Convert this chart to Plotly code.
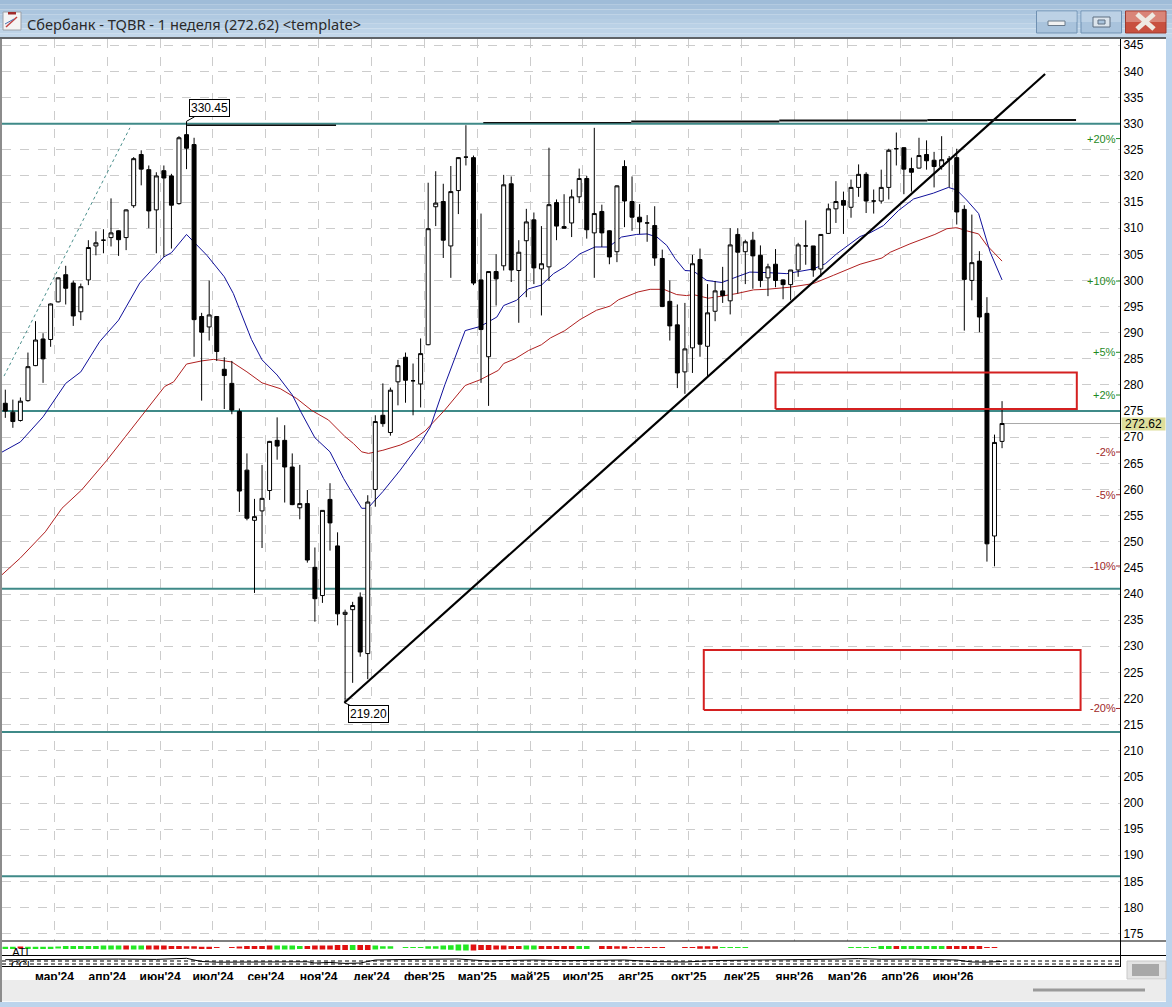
import plotly.graph_objects as go

TITLE = "Сбербанк - TQBR - 1 неделя (272.62) &lt;template&gt;"
LAST_PRICE = 272.62

# Weekly bars, oldest first
opens = [276.5,274.8,273.2,277.0,283.7,288.8,288.7,295.9,301.1,299.5,294.0,300.1,306.6,307.7,308.2,309.5,308.2,314.3,324.1,321.2,
         313.5,321.0,320.0,314.7,327.9,326.0,293.1,291.1,293.1,283.0,280.3,274.9,263.7,254.1,255.9,259.8,269.4,269.4,264.3,256.5,
         257.3,245.1,239.7,258.1,249.2,236.1,237.0,239.4,228.6,260.0,274.2,270.9,280.6,285.3,280.8,280.2,287.7,314.1,315.1,306.6,
         317.2,323.6,323.5,300.1,285.4,301.7,302.8,318.5,301.9,307.6,311.6,302.2,302.6,314.9,310.3,311.0,316.0,319.5,309.1,313.2,
         309.5,305.5,321.8,315.1,312.1,311.0,310.5,304.2,296.0,291.5,282.5,287.1,304.0,287.4,294.1,298.0,296.1,308.8,305.5,307.7,
         304.8,300.5,303.1,300.1,299.2,302.0,306.6,306.6,302.2,309.0,313.7,315.3,314.0,317.8,320.3,315.2,315.2,317.8,325.2,325.4,
         321.4,321.5,324.1,323.0,321.8,323.2,323.5,313.6,300.0,303.7,293.7,251.1,269.2]
highs = [279.1,277.2,277.6,286.2,292.2,289.9,295.6,300.6,302.8,300.0,299.4,307.7,309.4,309.8,315.7,309.6,313.6,323.6,324.9,322.0,
         320.7,322.0,320.4,327.6,330.45,327.3,293.8,300.0,293.2,285.3,284.6,275.5,266.9,258.2,264.7,269.3,273.8,272.3,266.9,264.7,
         259.9,248.9,256.0,261.2,251.8,237.0,238.5,240.3,258.9,274.2,280.3,279.5,284.8,286.2,284.1,288.9,318.7,320.9,318.5,321.9,
         323.6,329.7,323.9,312.8,301.7,305.0,320.2,319.9,307.7,313.7,313.0,310.4,325.4,315.5,316.5,317.4,321.4,320.0,329.2,314.5,
         309.6,318.2,323.0,319.9,314.6,312.5,314.2,305.9,300.0,295.4,295.7,304.9,306.1,299.3,299.9,302.6,310.0,310.0,307.8,309.3,
         306.7,303.2,306.0,300.2,302.0,307.2,311.5,306.6,308.8,314.7,319.0,317.0,319.3,322.2,320.7,317.4,321.2,325.2,328.3,325.5,
         323.5,327.3,326.8,324.6,327.6,323.8,325.2,314.4,312.6,305.6,296.8,270.5,276.9]
lows = [273.7,271.8,273.0,276.8,283.6,280.4,287.3,295.8,295.4,291.3,292.4,299.1,304.8,305.2,306.5,304.7,305.8,313.9,318.2,310.0,
        305.2,304.5,306.1,314.5,321.3,285.4,277.0,288.5,284.6,275.4,274.4,255.7,254.1,240.2,248.8,258.0,265.7,257.5,257.0,254.3,
        246.0,234.7,238.3,248.3,234.0,219.2,223.0,228.0,223.7,256.7,272.0,270.3,276.1,276.6,274.2,275.7,287.6,310.4,304.3,300.5,
        312.7,322.0,299.1,280.4,276.0,295.2,301.9,299.7,291.9,296.8,299.3,293.3,299.9,307.7,309.9,308.3,314.8,308.0,300.5,306.4,
        303.1,303.5,310.2,309.5,308.9,307.4,302.8,294.9,288.5,279.4,278.3,282.3,285.4,281.5,292.2,295.7,293.5,297.5,299.3,298.4,
        298.7,297.0,298.7,296.4,296.2,300.7,303.0,300.7,300.7,308.9,311.0,308.9,312.0,316.0,312.9,312.8,314.7,315.5,322.0,316.5,
        317.0,321.4,321.2,317.8,321.2,317.8,310.7,290.4,296.2,290.1,246.2,245.3,267.9]
closes = [275.0,273.0,276.9,283.5,288.6,285.0,295.5,300.5,298.5,293.2,298.8,306.3,307.2,307.7,309.1,307.8,313.5,323.3,321.3,313.3,
          320.0,319.6,314.4,327.3,325.3,292.5,290.1,293.4,286.4,281.8,275.2,259.7,254.5,254.8,258.3,269.2,268.3,264.3,257.1,257.3,
          246.5,239.1,256.0,253.6,236.2,236.5,237.8,228.9,257.6,273.0,272.6,279.0,283.7,280.9,280.8,286.0,309.9,314.8,307.7,317.0,
          323.5,323.6,299.5,290.6,301.7,300.3,318.3,302.0,305.4,311.2,302.4,303.2,314.5,310.4,310.0,316.0,319.5,309.7,312.8,309.1,
          304.5,318.1,315.2,312.1,311.2,311.0,304.3,295.0,291.3,282.3,286.9,303.2,287.8,293.8,298.0,297.1,306.8,305.4,307.4,304.7,
          300.0,302.6,300.0,299.2,302.0,306.8,306.6,302.0,308.8,313.7,315.1,314.4,317.8,320.3,315.2,315.2,317.8,324.9,325.2,321.3,
          320.7,323.9,322.9,321.8,323.1,323.2,313.1,300.2,303.4,293.0,249.6,269.0,272.62]

# Short moving average
ma_fast_idx = [-0.5,2,5,8,10,12.5,15,17.8,21,22,24,26.7,29,30.2,32.6,34,36,38,39.2,41,43,44.8,46,47.2,48,50,52.3,55.2,56.3,58.2,
               60.9,62.9,65.1,66,67.7,69.3,71,72.6,74.1,76.1,78.1,79.9,81.6,83.6,85,86.3,87.6,88.7,90,91.1,92.9,94.9,96.9,98.6,100.9,
               103.5,107,108.6,110.1,113.2,114.5,116.3,118.3,120.3,122.9,124.9,126,127.3,128.9,129.8,130.4,132]
ma_fast = [267.1,269.1,273.9,280.3,282.5,288.3,292.4,299.5,304.5,305.3,308.8,304.8,300.7,297.5,288.7,284.8,281.9,278.1,274.7,269.9,
           267.2,262.1,259.2,256.4,256.4,259.6,263.7,269.4,272.0,280.0,290.4,291.2,293.0,295.2,296.2,298.4,299.1,301.3,302.6,305.1,
           306.4,306.4,308.3,308.8,308.9,308.3,306.7,304.2,301.9,301.8,300.0,299.6,300.7,301.6,301.5,301.3,302.2,303.2,305.1,308.4,
           309.1,310.5,313.4,315.6,316.7,317.8,317.3,315.4,312.8,308.6,305.5,300.1]

# Long moving average
ma_slow_idx = [-0.5,2,5.3,7.5,10.1,13.4,15.9,18.5,21.1,22.3,24,26,27.6,30,32,34,36.4,38.6,40.6,42.8,45,46.1,47.2,48.1,50,52.3,54,
               55.6,57,58.2,60.9,62.9,65.3,66,67.5,69.3,71,72.2,74.1,76.1,78.3,80.1,81.2,83.8,85.4,87.2,88.9,90.2,91.1,93.1,94.9,96.9,
               99.1,100.8,103.9,107,109.7,113.2,116.1,117.2,119.8,123.1,124.7,126,127.3,128.9,130,132]
ma_slow = [243.6,246.9,251.9,256.4,259.9,265.5,270.1,274.9,279.7,280.6,284.0,284.6,284.9,284.4,282.5,280.4,279.3,277.4,275.1,273.3,
           270.1,268.8,267.2,266.9,267.5,268.5,269.6,271.2,273.3,275.2,279.9,281.0,282.8,284.1,285.0,286.6,287.7,289.0,290.4,292.5,
           294.3,295.1,296.3,297.8,298.3,298.3,297.3,297.1,297.3,296.6,297.0,297.5,298.2,298.3,298.7,299.4,301.0,303.1,304.3,305.4,
           307.0,308.8,309.9,310.1,309.5,308.9,306.7,303.7]

# Horizontal support and resistance levels
level_prices = [330, 275, 241, 213.6, 186]

# Rising support line and the earlier steep dotted channel edge
trend_idx = [44.9, 137.7]
trend_price = [219.2, 339.5]
channel_idx = [-0.17, 16.5]
channel_price = [281.7, 329.2]

# Nearly flat resistance drawn from the 2024 high, one entry per piece
resistance_idx = [(24.07, 43.8), (63.3, 82.9), (82.9, 102.5), (102.5, 122.1), (122.1, 141.8)]
resistance_price = [329.7, 330.2, 330.4, 330.6, 330.7]

# Target zones: first and last bar position, lower and upper price
zone_idx = [(102, 141.9), (92.5, 142.4)]
zone_price = [(275.4, 282.4), (217.8, 229.3)]

# Distance from the last price, printed beside the price scale
pct_levels = [20, 10, 5, 2, -2, -5, -10, -20]

# Signed oscillator histogram
ati_values = [1.5,1.5,-2,1.5,1.5,1.5,1.5,2,3,3,3,3,3,4,4,4,-4,4,4,-4,-4,-4,-3,-3,-2.5,-2.5,-1.5,-1.5,-1,0,-1,-2,-3,-3,-3,-4,
              4,4,4,3,-3,-4,-4,-4,-5,-5,5,-5,-5,4,2.5,2.5,0,1,1,1,2.5,2.5,4,4.5,6,6,-6,-5,-5,-4,-4,-3,-3,4,4,-3,-3,-3,-3,-3,
              3,3,0,-3,-3,-2.5,-2.5,-1,-1,-1,-1,-1,0,0,-1,-1,-2.5,-2.5,-2.5,1,1,1,1,0,0,0,0,0,0,0,0,0,0,0,0,0,
              1,1,1,1,3,3,-3,3,3,3,3,3,3,-3,-3,-3,-3,-3,-1,-1,0,-1,-3,-3]

# Second oscillator line and its two dashed bands
cci_idx = [0,5,10,15,20,23,24,25,26,28,32,38,40,41,43,45,47,48,49,52,56,60,62,64,67,70,74,78,82,86,90,94,100,106,110,113,116,120,
           124,126,128,130,132]
cci_vals = [6.3,6.7,6.4,6.9,6.6,7.7,7.7,6,4.5,3.8,4,4.4,4.2,3,3.6,2.6,3,4.5,6,6.4,6.7,7,6,5,5.6,6,5.3,5.5,6,4.4,4,5.5,6,6,6.8,
            7.4,6.7,6.9,6.5,6,4,3.8,4.6]
cci_bands = [5, 2]

# Month labels along the time scale
month_labels = ["мар'24","апр'24","июн'24","июл'24","сен'24","ноя'24","дек'24","фев'25","мар'25","май'25","июл'25","авг'25",
                "окт'25","дек'25","янв'26","мар'26","апр'26","июн'26"]
month_pos = [6.5 + 7 * k for k in range(len(month_labels))]

W, H = 1172, 1007
X_RANGE = [-0.437, 147.62]
Y_RANGE = [173.6, 346.2]
SANS = "Liberation Sans, Arial, sans-serif"
BAR_X = list(range(len(opens)))


def vdom(top, bottom):
    return [1 - bottom / H, 1 - top / H]


fig = go.Figure()

# Base layer of the price pane: levels and moving averages sit behind the candles
for lvl in level_prices:
    fig.add_trace(go.Scatter(x=X_RANGE, y=[lvl, lvl], mode="lines", line=dict(color="#3f8a88", width=2), hoverinfo="skip"))
fig.add_trace(go.Scatter(x=channel_idx, y=channel_price, mode="lines", line=dict(color="#4a8f8c", width=1, dash="3px,3px")))
fig.add_trace(go.Scatter(x=ma_slow_idx, y=ma_slow, mode="lines", line=dict(color="#b02020", width=1)))
fig.add_trace(go.Scatter(x=ma_fast_idx, y=ma_fast, mode="lines", line=dict(color="#10109a", width=1)))
fig.add_trace(go.Scatter(x=[BAR_X[-1], X_RANGE[1]], y=[LAST_PRICE, LAST_PRICE], mode="lines", line=dict(color="#a8a8a8", width=1)))

# Overlay layer: candles and the hand-drawn studies on top of them
fig.add_trace(go.Candlestick(
    x=BAR_X, open=opens, high=highs, low=lows, close=closes, xaxis="x4", yaxis="y4",
    increasing=dict(line=dict(color="black", width=1), fillcolor="white"),
    decreasing=dict(line=dict(color="black", width=1), fillcolor="black"),
    whiskerwidth=0,
))
fig.add_trace(go.Scatter(x=trend_idx, y=trend_price, mode="lines", xaxis="x4", yaxis="y4", line=dict(color="black", width=2.2)))
for (x0, x1), p in zip(resistance_idx, resistance_price):
    fig.add_trace(go.Scatter(x=[x0, x1], y=[p, p], mode="lines", xaxis="x4", yaxis="y4",
                             line=dict(color="#101010", width=2 if x0 > 80 else 1.4)))
for (x0, x1), (p0, p1) in zip(zone_idx, zone_price):
    fig.add_trace(go.Scatter(x=[x0, x1, x1, x0, x0], y=[p0, p0, p1, p1, p0], mode="lines", xaxis="x4", yaxis="y4",
                             line=dict(color="#d42020", width=2)))

# Oscillator histogram, centred on the pane's zero line
fig.add_trace(go.Bar(
    x=BAR_X, y=[abs(v) for v in ati_values], base=[-abs(v) / 2 for v in ati_values],
    marker=dict(color=["#22e822" if v > 0 else "#e01010" for v in ati_values], line=dict(width=0)),
    width=0.74, xaxis="x2", yaxis="y2",
))
fig.add_trace(go.Scatter(x=[2], y=[-5.5], mode="text", text=["ATI"], textfont=dict(family=SANS, size=11, color="black"),
                         xaxis="x2", yaxis="y2", cliponaxis=True))

# Lower oscillator pane
for band in cci_bands:
    fig.add_trace(go.Scatter(x=X_RANGE, y=[band, band], mode="lines", xaxis="x3", yaxis="y3",
                             line=dict(color="black", width=1, dash="4px,3px")))
fig.add_trace(go.Scatter(x=cci_idx, y=cci_vals, mode="lines", xaxis="x3", yaxis="y3", line=dict(color="black", width=1)))
fig.add_trace(go.Scatter(x=[2], y=[-0.5], mode="text", text=["CCI"], textfont=dict(family=SANS, size=11, color="black"),
                         xaxis="x3", yaxis="y3", cliponaxis=True))

shapes = []


def rect(x0, y0, x1, y1, fill, line=None, width=1):
    shapes.append(dict(type="rect", xref="paper", yref="paper", x0=x0 / W, x1=x1 / W, y0=1 - y0 / H, y1=1 - y1 / H,
                       fillcolor=fill, line=dict(color=line or fill, width=width if line else 0)))


def seg(x0, y0, x1, y1, color, width=1):
    shapes.append(dict(type="line", xref="paper", yref="paper", x0=x0 / W, x1=x1 / W, y0=1 - y0 / H, y1=1 - y1 / H,
                       line=dict(color=color, width=width)))


# Title bar gradient and window frame
for k, col in enumerate(["#9fbcd8", "#a6c1db", "#abc5de", "#b0c9e1", "#b5cde3", "#bad1e6", "#bed4e8", "#c2d7ea"]):
    rect(0, k * 4.75, W, (k + 1) * 4.75, col)
rect(1166, 38, W, H, "#bcd4ec")
rect(0, 980, 1166, 1002, "#ececec")
rect(0, 1002, W, H, "#bcd4ec")
seg(0, 1001.5, 1166, 1001.5, "#f8f8f8")
rect(0, 38, 2, 1002, "#8c8c8c")
rect(0, 37, 1166, 39, "#606468")

# Window buttons
rect(1036.5, 11, 1077, 33, "#a9c3dc", "#6f90b2")
rect(1081, 11, 1121.5, 33, "#a9c3dc", "#6f90b2")
rect(1125.5, 11, 1166, 33, "#c8503f", "#9a3a30")
rect(1126, 11.5, 1165.5, 22, "#d98578")
rect(1037, 11.5, 1076.5, 22, "#bcd1e5")
rect(1081.5, 11.5, 1121, 22, "#bcd1e5")
rect(1048, 21, 1065, 25.5, "#f2f2f2", "#6a7a8a")
rect(1093, 17, 1110, 27, "#dbe4ec", "#5f6f80", 1)
rect(1098, 20, 1105, 24, "#a9c3dc", "#5f6f80", 1)
seg(1137, 14, 1154, 29, "#eeeae2", 5)
seg(1154, 14, 1137, 29, "#eeeae2", 5)

# Window icon
rect(3, 12, 21, 30, "#f4f4f4", "#9aa0a8")
rect(8, 12, 16, 14.5, "#a02a2a")
seg(6, 27, 17, 17, "#c04040", 1.5)
seg(5, 24, 14, 19, "#4a70b0", 1)

# Pane separators and the corner scroll controls
seg(2, 941, 1166, 941, "black")
seg(2, 955.5, 1166, 955.5, "black")
rect(1127, 961, 1166, 979, "#e4e4e4", "#c8c8c8")
rect(1132, 964, 1159, 976, "#a8a8a8")
rect(1033, 988.5, 1145, 991.5, "#9a9a9a")

annotations = [
    dict(xref="paper", yref="paper", x=25 / W, y=1 - 23.5 / H, xanchor="left", yanchor="middle", showarrow=False, text=TITLE,
         font=dict(family="Noto Sans, Open Sans, sans-serif", size=14.6, color="#2a2a2a")),
    dict(xref="paper", yref="y", x=1121 / W, y=LAST_PRICE, xanchor="left", yanchor="middle", showarrow=False, align="center",
         text=f"{LAST_PRICE:.2f}", font=dict(family=SANS, size=12, color="black"), bgcolor="#dede9c", width=43, height=12, borderpad=0),
    dict(x=24, y=330.45, xref="x", yref="y", ax=23, ay=-13, axref="pixel", ayref="pixel", showarrow=True, arrowhead=0, arrowwidth=1,
         arrowcolor="black", text="330.45", font=dict(family=SANS, size=12, color="black"), bgcolor="white",
         bordercolor="black", borderwidth=1, borderpad=1),
    dict(x=44.9, y=219.2, xref="x", yref="y", ax=24, ay=11, axref="pixel", ayref="pixel", showarrow=True, arrowhead=0, arrowwidth=1,
         arrowcolor="black", text="219.20", font=dict(family=SANS, size=12, color="black"), bgcolor="white",
         bordercolor="black", borderwidth=1, borderpad=1),
]

# Percent marks sit just left of the price scale with a short tick
for pct in pct_levels:
    level = LAST_PRICE * (1 + pct / 100)
    colour = "#1f8a1f" if pct > 0 else "#a02828"
    annotations.append(dict(xref="paper", yref="y", x=1116.5 / W, y=level, xanchor="right", yanchor="middle", showarrow=False,
                            text=f"{pct:+d}%", font=dict(family=SANS, size=11, color=colour), borderpad=0))
    shapes.append(dict(type="line", xref="paper", yref="y", x0=1116 / W, x1=1120 / W, y0=level, y1=level,
                       line=dict(color=colour, width=1)))

x_dom = [2 / W, 1120 / W]
hidden_x = dict(domain=x_dom, range=X_RANGE, showgrid=False, zeroline=False, showticklabels=False, ticks="", fixedrange=True,
                rangeslider=dict(visible=False))

fig.update_layout(
    width=W, height=H, autosize=False, margin=dict(l=0, r=0, t=0, b=0), showlegend=False, barmode="overlay",
    paper_bgcolor="white", plot_bgcolor="white", hovermode=False, boxgap=0.25,
    shapes=shapes, annotations=annotations,
    xaxis=dict(domain=x_dom, range=X_RANGE, tickmode="array", tickvals=month_pos, ticktext=[""] * len(month_pos), ticks="",
               showgrid=True, gridcolor="#cccccc", griddash="dash", gridwidth=1, zeroline=False, fixedrange=True,
               anchor="y", rangeslider=dict(visible=False)),
    yaxis=dict(domain=vdom(39, 941), range=Y_RANGE, side="right", anchor="x", tickmode="array", tickvals=list(range(175, 350, 5)),
               showgrid=True, gridcolor="#cccccc", griddash="dash", gridwidth=1, zeroline=False, showline=True, linecolor="black",
               linewidth=1, ticks="", tickfont=dict(family=SANS, size=12, color="black"), fixedrange=True),
    xaxis2=dict(hidden_x, anchor="y2"),
    yaxis2=dict(domain=vdom(941, 955), range=[-7.5, 6.5], side="right", anchor="x2", showgrid=False, zeroline=False,
                showticklabels=False, ticks="", showline=True, linecolor="black", linewidth=1, fixedrange=True),
    xaxis3=dict(domain=x_dom, range=X_RANGE, anchor="y3", tickmode="array", tickvals=month_pos, ticktext=month_labels, ticks="",
                showgrid=False, zeroline=False, showline=True, linecolor="black", linewidth=1, fixedrange=True,
                tickfont=dict(family=SANS, size=12, color="black", weight=700), tickangle=0),
    yaxis3=dict(domain=vdom(955.5, 966), range=[0, 10.5], side="right", anchor="x3", showgrid=False, zeroline=False,
                showticklabels=False, ticks="", showline=True, linecolor="black", linewidth=1, fixedrange=True),
    xaxis4=dict(hidden_x, overlaying="x", anchor="y4"),
    yaxis4=dict(range=Y_RANGE, overlaying="y", anchor="x4", side="right", visible=False, fixedrange=True),
)

fig.write_html("out.html", config=dict(displayModeBar=False))
